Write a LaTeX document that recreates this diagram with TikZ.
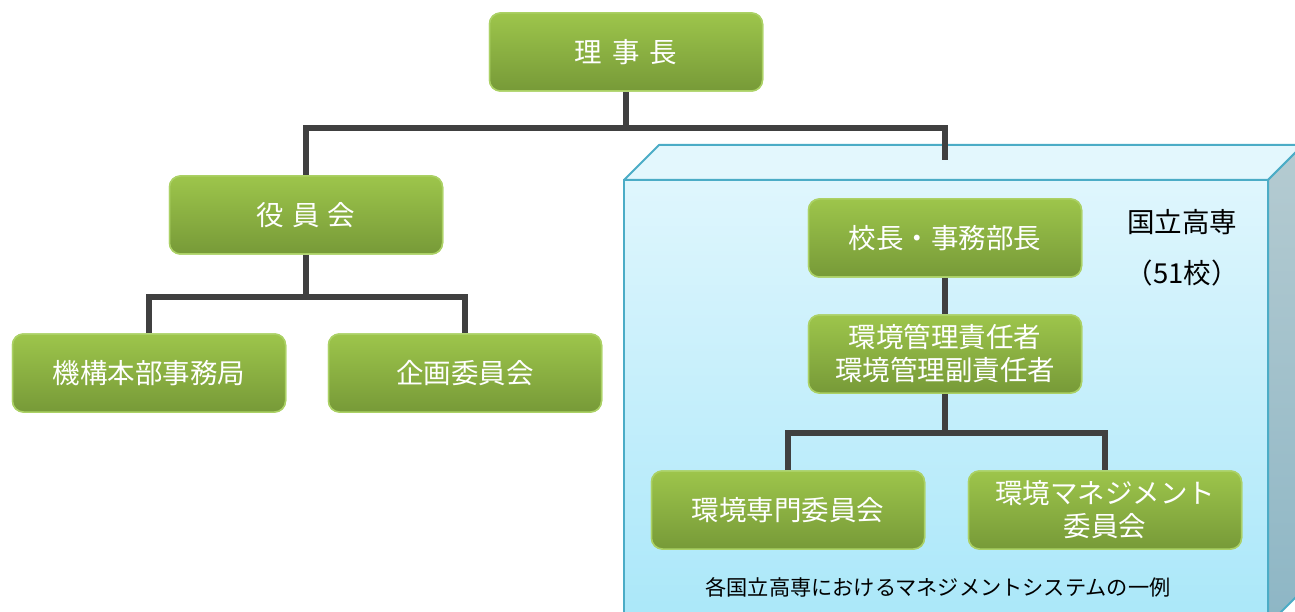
\documentclass[tikz,border=0pt]{standalone}
\usepackage{fontspec}
\newfontfamily\jp{Noto Sans CJK JP}
\definecolor{gtop}{HTML}{9DC54B}
\definecolor{gbot}{HTML}{779A38}
\definecolor{gedge}{HTML}{ABD165}
\definecolor{conncol}{HTML}{404040}
\definecolor{cubeedge}{HTML}{4BACC6}
\definecolor{fronttop}{HTML}{DFF6FD}
\definecolor{frontbot}{HTML}{A9E7F9}
\definecolor{topface}{HTML}{E3F7FD}
\definecolor{sidetop}{HTML}{B5CBD1}
\definecolor{sidebot}{HTML}{8DB6C5}
\tikzset{
  gbox/.style={draw=gedge, line width=1.5pt, rounded corners=11pt,
    top color=gtop, bottom color=gbot, minimum width=273pt, minimum height=78pt,
    text=white, align=center, inner sep=0pt,
    font=\jp\fontsize{27.5}{33}\selectfont},
  conn/.style={draw=conncol, line width=6pt},
  plain/.style={font=\jp\fontsize{27.5}{33}\selectfont, text=black, inner sep=0pt},
}
\begin{document}
\begin{tikzpicture}[x=1pt,y=-1pt]
\useasboundingbox (0,0) rectangle (1295,612);
\clip (0,0) rectangle (1295,612);
% cube
\path[top color=fronttop, bottom color=frontbot, draw=cubeedge, line width=2pt]
  (624,180) rectangle (1268,630);
\path[fill=topface, draw=cubeedge, line width=2pt, line join=round]
  (624,180) -- (659,145) -- (1303,145) -- (1268,180) -- cycle;
\path[top color=sidetop, bottom color=sidebot, draw=cubeedge, line width=2pt, line join=round]
  (1268,180) -- (1303,145) -- (1303,590) -- (1268,625) -- cycle;
% connector junctions
\coordinate (j1) at (626,128);
\coordinate (kin) at (945,160);
\coordinate (j2) at (306,297);
\coordinate (j3) at (945,433);
% node positions (named, drawn after connectors)
\path (626,52) coordinate (prij);
% nodes
\node[gbox] (riji) at (626,52) {理\hspace{10pt}事\hspace{10pt}長};
\node[gbox] (yaku) at (306,215) {役\hspace{8pt}員\hspace{8pt}会};
\node[gbox] (kiko) at (149,373) {機構本部事務局};
\node[gbox] (kikaku) at (465,373) {企画委員会};
\node[gbox] (kocho) at (945,238) {校長・事務部長};
\node[gbox] (sekinin) at (945,354) {環境管理責任者\\環境管理副責任者};
\node[gbox] (senmon) at (788,510) {環境専門委員会};
\node[gbox] (manage) at (1105,510) {環境マネジメント\\委員会};
\node[plain] (kosen) at (1182,222) {国立高専};
\node[plain] (num) at (1182,273) {（51校）};
\node[font=\jp\fontsize{21.2}{25}\selectfont, inner sep=0pt] (cap) at (938,587) {各国立高専におけるマネジメントシステムの一例};
% connectors
\draw[conn] (riji.south) -- (j1);
\draw[conn] (yaku.north) -- (yaku.north |- j1) -- (kin |- j1) -- (kin);
\draw[conn] (yaku.south) -- (j2);
\draw[conn] (kiko.north) -- (kiko.north |- j2) -- (kikaku.north |- j2) -- (kikaku.north);
\draw[conn] (kocho.south) -- (sekinin.north);
\draw[conn] (sekinin.south) -- (j3);
\draw[conn] (senmon.north) -- (senmon.north |- j3) -- (manage.north |- j3) -- (manage.north);
% redraw boxes on top of connectors
\node[gbox] at (riji) {理\hspace{10pt}事\hspace{10pt}長};
\node[gbox] at (yaku) {役\hspace{8pt}員\hspace{8pt}会};
\node[gbox] at (kiko) {機構本部事務局};
\node[gbox] at (kikaku) {企画委員会};
\node[gbox] at (kocho) {校長・事務部長};
\node[gbox] at (sekinin) {環境管理責任者\\環境管理副責任者};
\node[gbox] at (senmon) {環境専門委員会};
\node[gbox] at (manage) {環境マネジメント\\委員会};
\end{tikzpicture}
\end{document}
